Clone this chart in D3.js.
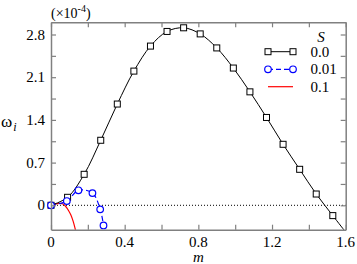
<!DOCTYPE html>
<html><head><meta charset="utf-8">
<script src="https://cdn.jsdelivr.net/npm/d3@7"></script>
<style>body{margin:0;background:#fff}svg{display:block}</style>
</head><body>
<svg id="c" width="357" height="264" font-family="Liberation Serif"></svg>
<script>
const blackM = [0,0.09,0.18,0.27,0.36,0.45,0.54,0.63,0.72,0.81,0.90,0.99,1.08,1.17,1.26,1.35,1.44,1.53,1.6];
const blackW = [0,0.131,0.508,1.066,1.66,2.20,2.61,2.85,2.91,2.81,2.58,2.25,1.86,1.44,1.00,0.59,0.185,-0.169,-0.44];
const blackMarkerCount = 18;
const blueM = [0,0.086,0.149,0.225,0.267,0.285];
const blueW = [0,0.07,0.246,0.20,-0.066,-0.33];
const redM = [0,0.02,0.035,0.05,0.065,0.08,0.095,0.108,0.12,0.13,0.136];
const redW = [0,0.018,0.028,0.03,0.02,-0.02,-0.085,-0.16,-0.26,-0.37,-0.45];
const legendLabels = ["0.0","0.01","0.1"];
const xTickLabels = [0,0.4,0.8,1.2,1.6];
const yTickLabels = [0,0.7,1.4,2.1,2.8];

const svg = d3.select("#c");
const L=51, R=345.7, T=22.3, B=229.7;
const x = d3.scaleLinear().domain([0,1.6]).range([L,R]);
const y = d3.scaleLinear().domain([-0.4,3.0]).range([B,T]);
const axisCol = "#808080";

svg.append("defs").append("clipPath").attr("id","clip")
  .append("rect").attr("x",L).attr("y",T).attr("width",R-L).attr("height",B-T);

svg.append("line").attr("x1",L).attr("x2",R).attr("y1",y(0)).attr("y2",y(0))
  .attr("stroke","#000").attr("stroke-width",1).attr("stroke-dasharray","1,2");

const g = svg.append("g").attr("clip-path","url(#clip)");
const line = d3.line().x(d=>x(d[0])).y(d=>y(d[1])).curve(d3.curveCatmullRom);

const blackData = blackM.map((m,i)=>[m,blackW[i]]);
const blueData = blueM.map((m,i)=>[m,blueW[i]]);
const redData = redM.map((m,i)=>[m,redW[i]]);

g.append("path").attr("d",line(redData)).attr("fill","none").attr("stroke","#ff0000").attr("stroke-width",1.2);
g.append("path").attr("d",line(blueData)).attr("fill","none").attr("stroke","#0000ff").attr("stroke-width",1.2).attr("stroke-dasharray","5,3");
g.append("path").attr("d",line(blackData)).attr("fill","none").attr("stroke","#000").attr("stroke-width",1);

svg.append("g").selectAll("rect").data(blackData.slice(0,blackMarkerCount)).join("rect")
  .attr("x",d=>x(d[0])-3).attr("y",d=>y(d[1])-3).attr("width",6).attr("height",6)
  .attr("fill","#fff").attr("stroke","#000").attr("stroke-width",1);
svg.append("g").selectAll("circle").data(blueData).join("circle")
  .attr("cx",d=>x(d[0])).attr("cy",d=>y(d[1])).attr("r",3.3)
  .attr("fill","#fff").attr("stroke","#0000ff").attr("stroke-width",1.2);

const xt = d3.range(0,1.61,0.2), yt = d3.range(0,3.0,0.35);
function ax(axis, tr){
  const a = svg.append("g").attr("transform",tr).call(axis);
  a.select(".domain").attr("stroke",axisCol).attr("stroke-width",1.5);
  a.selectAll(".tick line").attr("stroke",axisCol).attr("stroke-width",1.2);
  a.selectAll("text").remove();
  return a;
}
ax(d3.axisBottom(x).tickValues(xt).tickSizeInner(-5).tickSizeOuter(0),`translate(0,${B})`);
ax(d3.axisTop(x).tickValues(xt).tickSizeInner(-5).tickSizeOuter(0),`translate(0,${T})`);
ax(d3.axisLeft(y).tickValues(yt).tickSizeInner(-5).tickSizeOuter(0),`translate(${L},0)`);
ax(d3.axisRight(y).tickValues(yt).tickSizeInner(-5).tickSizeOuter(0),`translate(${R},0)`);

svg.append("g").selectAll("text").data(xTickLabels).join("text")
  .attr("x",d=>x(d)).attr("y",247).attr("text-anchor","middle").attr("font-size",15)
  .text(d=>d===0?"0":d.toFixed(1));
svg.append("g").selectAll("text").data(yTickLabels).join("text")
  .attr("x",45).attr("y",d=>y(d)+5).attr("text-anchor","end").attr("font-size",15)
  .text(d=>d===0?"0":d.toFixed(1));

svg.append("text").attr("x",x(0.8)).attr("y",262).attr("text-anchor","middle")
  .attr("font-size",15).attr("font-style","italic").text("m");

const yl = svg.append("text").attr("x",1).attr("y",127).attr("font-size",17);
yl.append("tspan").text("ω");
yl.append("tspan").attr("font-size",12).attr("font-style","italic").attr("dx",1).attr("dy",4).text("i");

const ex = svg.append("text").attr("x",51).attr("y",18).attr("font-size",14);
ex.append("tspan").text("(×10");
ex.append("tspan").attr("font-size",10).attr("dy",-6).text("-4");
ex.append("tspan").attr("dy",6).text(")");

svg.append("text").attr("x",321).attr("y",41.5).attr("text-anchor","middle")
  .attr("font-size",15).attr("font-style","italic").text("S");
const ly = [51.7,69.3,86.7];
const lg = svg.append("g");
legendLabels.forEach((lab,i)=>{
  const yy = ly[i];
  const col = ["#000","#0000ff","#ff0000"][i];
  lg.append("line").attr("x1",268).attr("x2",293).attr("y1",yy).attr("y2",yy)
    .attr("stroke",col).attr("stroke-width",i===0?1:1.2).attr("stroke-dasharray",i===1?"5,3":null);
  if(i===0){
    [268,293].forEach(xx=>lg.append("rect").attr("x",xx-3).attr("y",yy-3).attr("width",6).attr("height",6)
      .attr("fill","#fff").attr("stroke","#000"));
  } else if(i===1){
    [268,293].forEach(xx=>lg.append("circle").attr("cx",xx).attr("cy",yy).attr("r",3.3)
      .attr("fill","#fff").attr("stroke","#0000ff").attr("stroke-width",1.2));
  }
  lg.append("text").attr("x",310.5).attr("y",yy+5).attr("font-size",15).text(lab);
});
</script>
</body></html>
